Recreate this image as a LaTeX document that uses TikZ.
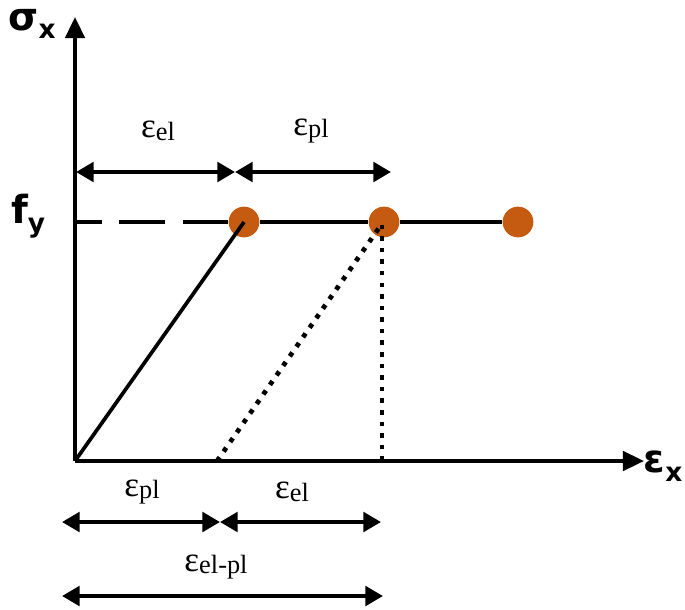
\documentclass[tikz,border=0pt]{standalone}
\usepackage{fontspec}
\setmainfont{Liberation Serif}
\newfontfamily\axisfont{DejaVu Sans}
\usetikzlibrary{arrows.meta}
\definecolor{yieldorange}{RGB}{197,90,17}
\newcommand{\strainlbl}[1]{ε\raisebox{-1.5pt}{\fontsize{15}{15}\selectfont #1}}

\begin{document}
\begin{tikzpicture}[
    x=0.02cm, y=-0.02cm,
    axis/.style={-{Triangle[length=12pt,width=11pt]}, line width=2.1pt},
    dim/.style={{Triangle[length=10pt,width=11pt]}-{Triangle[length=10pt,width=11pt]}, line width=2.3pt},
    lbl/.style={font=\fontsize{20}{22}\selectfont, inner sep=0pt},
    axlbl/.style={font=\axisfont\bfseries\fontsize{22}{24}\selectfont, inner sep=0pt},
    yieldpt/.style={circle, fill=yieldorange, minimum size=17.5pt, inner sep=0pt}
]
\useasboundingbox (0,0) rectangle (685,609);
% axes
\coordinate (o) at (75,461);
\coordinate (ytop) at (75,17);
\coordinate (xend) at (644,461);
\draw[axis] (o) -- (ytop);
\draw[axis] (o) -- (xend);
\node[axlbl] (sig) at (32,24) {σ\raisebox{-5pt}{\fontsize{15}{15}\selectfont x}};
\node[axlbl] (fy) at (28,216) {f\raisebox{-5pt}{\fontsize{15}{15}\selectfont y}};
\node[axlbl] (epsx) at (663,466) {ε\raisebox{-5pt}{\fontsize{15}{15}\selectfont x}};
% yield level
\coordinate (fyax) at (75,222);
\node[yieldpt] (p1) at (244,222) {};
\node[yieldpt] (p2) at (384,222) {};
\node[yieldpt] (p3) at (518,222) {};
\draw[line width=2.1pt] (o) -- (p1.center);
\draw[line width=2.1pt, dash pattern=on 26pt off 10pt] (p1.west) -- (fyax);
\draw[line width=2.1pt] (p1) -- (p2) -- (p3);
% unloading
\coordinate (un) at (217,461);
\coordinate (unx) at (382,461);
\draw[line width=2.7pt, dash pattern=on 2.6pt off 4pt] (un) -- (381,225);
\draw[line width=2.7pt, dash pattern=on 2.6pt off 4pt] (unx) -- (382,225);
% strains above
\coordinate (a0) at (76,172);
\coordinate (a1) at (235,172);
\coordinate (a2) at (391,172);
\draw[dim] (a0) -- (a1);
\draw[dim] (a1) -- (a2);
\node[lbl] (elt) at (158,131) {\strainlbl{el}};
\node[lbl] (plt) at (311,131) {\strainlbl{pl}};
% strains below
\coordinate (b0) at (62,522);
\coordinate (b1) at (220,522);
\coordinate (b2) at (381,522);
\draw[dim] (b0) -- (b1);
\draw[dim] (b1) -- (b2);
\node[lbl] (plb) at (142,492) {\strainlbl{pl}};
\node[lbl] (elb) at (292,492) {\strainlbl{el}};
\coordinate (c0) at (62,596);
\coordinate (c1) at (383,596);
\draw[dim] (c0) -- (c1);
\node[lbl] (elpl) at (216,567) {\strainlbl{el-pl}};
\end{tikzpicture}
\end{document}
